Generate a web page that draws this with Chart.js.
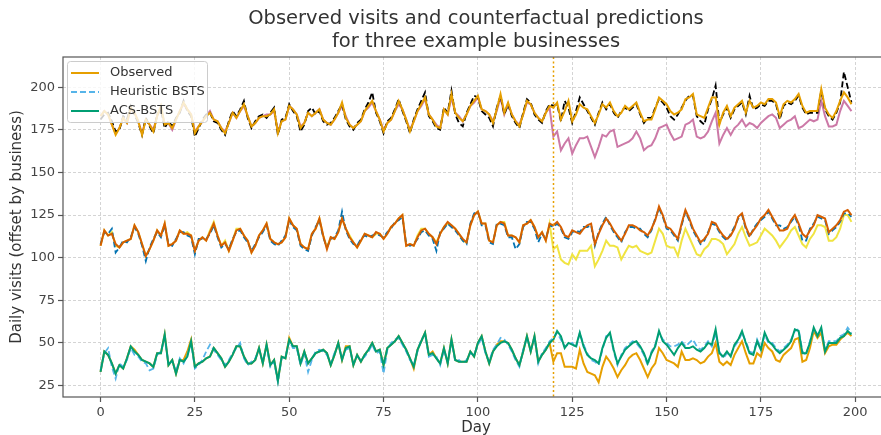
<!DOCTYPE html>
<html>
<head>
<meta charset="utf-8">
<script src="https://cdn.jsdelivr.net/npm/chart.js@4/dist/chart.umd.min.js"></script>
<style>
    html, body { margin: 0; padding: 0; background: #fff; overflow: hidden; }
    #wrap { width: 881px; height: 435px; overflow: hidden; }
</style>
</head>
<body>
<div id="wrap"><canvas id="visitsChart" width="890" height="435"></canvas></div>
<script>
// == Data ==
const days = Array.from({ length: 200 }, (_, i) => i);
const interventionDay = 120;
const xTicks = [0, 25, 50, 75, 100, 125, 150, 175, 200];
const yTicks = [25, 50, 75, 100, 125, 150, 175, 200];

// business A (bottom)
const botObserved = [
    33,45,43,38,32,37,35,41,48,46,43,40,39,38,36,44,44,55,37,40,
    32,40,40,45,52,36,38,39,41,42,47,44,41,36,39,43,48,48,42,38,
    38,40,47,38,49,37,40,28,42,41,53,48,48,38,45,38,41,44,45,46,
    44,37,43,50,40,48,48,37,43,39,43,46,50,45,46,37,47,49,51,54,
    50,46,41,35,46,51,56,43,45,41,38,47,38,52,40,39,39,39,45,42,
    50,54,45,38,45,49,51,51,50,46,41,37,45,54,45,54,39,43,46,50,
    39,44,44,36,36,36,35,46,38,33,32,31,27,36,42,39,35,30,34,37,
    41,43,44,40,35,30,35,38,47,44,40,39,38,36,45,40,40,41,40,38,
    39,42,44,50,39,37,39,37,43,47,51,44,38,38,44,42,50,47,45,40,
    39,43,45,47,52,53,39,40,47,57,53,56,44,48,49,49,52,54,56,54
];
const botHeuristic = [
    34,44,47,36,29,38,36,40,47,43,42,39,38,34,35,43,45,53,38,39,
    33,41,38,43,50,35,37,40,45,49,46,43,40,37,40,44,47,50,41,37,
    39,41,46,39,48,36,39,27,41,42,51,47,47,37,44,33,40,45,46,45,
    43,38,44,49,41,46,47,38,42,40,42,45,49,44,45,32,46,50,52,53,
    49,45,40,37,45,52,55,42,43,42,37,46,39,51,39,40,38,40,44,43,
    49,53,44,39,46,49,53,52,49,45,40,36,46,53,46,53,38,44,47,51,
    53,56,52,48,49,50,47,56,49,44,40,39,37,46,54,55,45,37,43,47,
    49,51,50,47,43,37,45,49,56,52,50,48,48,49,51,48,50,52,48,46,
    48,51,48,56,45,41,44,43,48,51,56,51,45,44,52,47,55,50,50,47,
    45,47,49,52,57,58,45,43,51,58,55,58,46,51,51,51,54,55,59,56
];
const botAcs = [
    33,45,43,38,32,37,35,41,48,45,43,40,39,38,36,44,44,55,37,40,
    32,40,39,42,51,36,38,39,41,42,47,44,41,36,39,43,48,48,42,38,
    38,40,47,38,49,37,40,28,42,41,52,48,48,38,45,38,41,44,45,46,
    44,37,43,50,40,47,48,37,43,39,43,46,50,45,46,37,47,49,51,54,
    50,46,41,36,46,51,56,43,44,41,38,47,38,52,40,39,39,39,45,42,
    50,54,45,38,45,48,50,51,50,46,41,37,45,54,45,54,39,43,46,50,
    52,57,54,47,50,49,48,56,48,43,41,40,38,47,53,56,46,38,42,46,
    48,50,51,48,44,38,44,48,57,51,49,46,43,47,50,47,47,48,46,45,
    47,50,49,58,44,42,45,42,49,52,57,50,44,43,51,46,56,51,49,46,
    44,46,48,51,58,57,44,44,50,59,54,59,45,50,50,50,53,54,57,55
];

// business B (middle)
const midObserved = [
    107,116,113,115,107,106,109,110,111,119,115,108,101,105,110,116,113,120,107,108,
    110,116,114,115,113,104,110,112,110,116,121,113,107,110,104,110,117,117,113,110,
    103,107,113,116,120,111,109,108,109,112,123,119,117,108,106,105,114,117,123,113,
    106,112,111,115,123,117,113,109,106,110,114,113,112,114,114,111,114,118,120,123,
    125,107,108,107,113,117,117,114,112,109,114,118,120,119,117,114,110,109,119,125,
    127,120,120,110,109,119,121,121,113,113,112,109,119,120,122,118,112,115,110,120,
    105,107,99,97,96,102,99,104,104,104,107,95,99,104,110,107,107,106,99,103,
    107,106,107,104,103,102,103,110,117,114,107,106,106,101,110,117,112,107,102,101,
    105,107,111,111,110,108,102,105,108,114,118,112,107,108,109,113,117,115,113,110,
    106,109,112,116,118,113,108,106,111,114,119,119,118,110,110,112,117,125,125,121
];
const midHeuristic = [
    108,115,114,117,103,106,110,109,112,118,114,107,98,106,111,115,112,119,108,107,
    111,115,115,113,112,102,111,111,111,114,119,112,106,108,105,111,115,116,112,109,
    104,108,112,115,119,110,108,107,110,113,122,118,116,107,105,104,113,118,122,112,
    106,111,112,116,127,116,111,108,107,111,113,112,113,114,113,112,115,117,121,122,
    124,108,107,108,111,115,116,113,111,104,115,117,120,118,116,113,110,108,120,126,
    127,119,119,109,108,120,120,119,112,112,105,108,118,121,121,117,109,114,111,119,
    118,120,117,112,111,115,116,115,118,118,119,107,115,120,124,119,115,112,109,115,
    118,118,117,117,114,112,116,123,129,124,117,116,113,110,119,127,122,116,112,108,
    110,115,120,119,115,112,110,114,118,123,125,117,112,117,120,122,124,127,123,119,
    119,117,118,121,124,119,110,110,117,120,124,123,122,114,116,118,121,126,126,124
];
const midAcs = [
    107,116,113,114,108,106,109,110,111,119,115,108,101,105,110,116,113,120,107,108,
    110,116,114,114,113,104,110,112,110,115,120,113,107,109,104,110,116,117,113,110,
    103,107,113,116,120,111,109,108,109,112,123,119,117,108,106,105,114,117,123,113,
    105,112,111,115,123,117,112,109,106,110,114,113,112,115,114,111,114,118,120,123,
    125,107,108,107,112,116,117,114,112,108,114,118,121,119,117,114,111,109,119,125,
    127,120,120,110,109,119,121,120,113,113,112,109,119,120,122,118,112,115,110,120,
    119,121,118,113,112,116,115,114,117,119,120,108,114,119,123,120,116,113,110,114,
    119,119,118,116,115,113,117,122,130,125,118,117,114,111,120,128,123,117,113,109,
    111,114,121,120,116,113,111,113,117,124,126,118,113,116,119,123,125,128,124,120,
    116,116,117,122,125,120,114,112,116,119,125,124,123,115,117,119,122,127,128,125
];

// business C (top)
const topObserved = [
    183,186,184,178,173,176,182,179,187,185,180,173,181,178,175,183,188,178,179,175,
    181,186,190,187,184,174,177,180,183,186,181,180,176,174,179,185,182,186,189,183,
    177,179,182,183,184,184,186,174,180,181,189,187,184,177,179,185,183,185,187,181,
    179,178,181,185,189,183,178,176,178,180,186,188,191,186,181,175,179,181,186,190,
    187,181,175,180,186,189,193,184,181,178,176,187,184,194,185,183,180,184,189,191,
    194,187,186,184,180,186,194,184,190,184,180,178,184,191,190,185,182,180,185,188,
    171,174,163,167,170,161,166,170,170,171,165,159,165,172,171,174,175,165,166,167,
    168,170,174,170,163,165,166,170,176,177,178,173,169,170,171,178,179,181,171,170,
    171,174,180,185,167,172,176,172,176,178,181,177,179,178,176,179,181,183,184,182,
    176,178,180,181,183,176,177,179,181,180,181,192,183,177,177,178,186,192,189,186
];
const topHeuristic = [
    181,184,185,180,174,175,183,181,189,184,179,172,182,177,173,184,187,176,180,177,
    182,185,192,186,183,171,176,181,184,185,180,179,175,172,180,186,183,187,192,182,
    176,180,183,184,182,185,188,172,181,182,190,186,183,174,178,186,188,184,186,180,
    178,179,182,186,190,181,177,175,179,181,187,191,197,185,180,173,180,182,187,193,
    186,180,173,181,187,192,197,183,180,176,175,188,185,198,184,179,177,185,190,195,
    194,186,184,182,177,188,195,184,190,183,179,176,185,193,191,184,181,179,186,190,
    189,190,180,192,188,179,186,194,190,186,182,178,185,191,187,190,185,182,186,188,
    186,188,190,184,179,182,182,188,193,191,188,183,181,184,188,192,195,195,183,180,
    178,187,193,201,179,184,188,182,187,189,191,184,195,187,188,190,189,192,192,190,
    181,189,191,190,192,195,188,184,185,185,185,198,187,183,181,185,191,209,200,191
];
const topAcs = [
    183,186,184,178,172,176,182,179,188,185,180,172,181,178,174,183,189,178,179,176,
    181,186,191,187,184,173,177,180,183,185,181,180,176,173,179,185,182,186,190,183,
    177,179,182,183,183,184,187,173,180,181,189,187,184,176,179,185,183,185,187,181,
    179,178,181,185,191,182,178,176,178,180,186,189,192,186,181,174,179,181,186,192,
    187,181,174,180,186,190,194,184,181,177,176,187,184,196,185,182,180,184,189,192,
    195,187,186,184,179,187,196,185,191,184,180,177,184,192,190,185,182,180,185,189,
    188,191,181,186,192,180,184,190,188,187,183,179,184,190,188,191,186,183,185,189,
    187,189,191,185,180,181,181,187,194,192,190,186,184,185,187,193,194,196,184,183,
    182,188,194,194,178,185,189,183,188,190,192,185,192,188,189,191,190,193,193,191,
    183,190,192,191,193,196,189,185,186,186,186,199,188,184,182,186,192,197,194,190
];

const legendItems = [
    { label: 'Observed', color: '#E69F00', dash: [] },
    { label: 'Heuristic BSTS', color: '#56B4E9', dash: [6, 3] },
    { label: 'ACS-BSTS', color: '#009E73', dash: [] },
];

// == Utils ==
const FONT = '"DejaVu Sans", sans-serif';

function makeLine(data, color, dashed, plotIndex) {
    return {
        data,
        borderColor: color,
        borderWidth: dashed ? 1.8 : 2,
        borderDash: dashed ? [6, 3] : [],
        pointRadius: 0,
        tension: 0,
        fill: false,
        order: 20 - plotIndex,
    };
}

// == Decorations ==
const decorations = {
    id: 'decorations',
    afterDatasetsDraw(chart) {
        const { ctx, chartArea: a, scales: { x } } = chart;
        const xi = Math.round(x.getPixelForValue(interventionDay)) + 0.5;
        ctx.save();
        ctx.strokeStyle = '#E69F00';
        ctx.lineWidth = 1.5;
        ctx.setLineDash([2, 2.5]);
        ctx.beginPath();
        ctx.moveTo(xi, a.top);
        ctx.lineTo(xi, a.bottom);
        ctx.stroke();
        ctx.restore();
    },
    afterDraw(chart) {
        const { ctx, chartArea: a } = chart;
        ctx.save();

        // frame
        ctx.strokeStyle = '#555';
        ctx.lineWidth = 1.2;
        ctx.strokeRect(a.left, a.top, a.right - a.left, a.bottom - a.top);

        // legend
        ctx.fillStyle = 'rgba(255,255,255,0.8)';
        ctx.strokeStyle = '#cccccc';
        ctx.lineWidth = 1;
        ctx.beginPath();
        ctx.roundRect(67.5, 61.5, 140, 61, 3);
        ctx.fill();
        ctx.stroke();
        ctx.font = `13px ${FONT}`;
        ctx.textBaseline = 'middle';
        legendItems.forEach((item, i) => {
            const y = 73 + i * 19;
            ctx.strokeStyle = item.color;
            ctx.lineWidth = 2;
            ctx.setLineDash(item.dash);
            ctx.beginPath();
            ctx.moveTo(71, y);
            ctx.lineTo(99, y);
            ctx.stroke();
            ctx.setLineDash([]);
            ctx.fillStyle = '#333';
            ctx.textAlign = 'left';
            ctx.fillText(item.label, 110, y);
        });

        // titles
        const cx = (a.left + a.right) / 2;
        ctx.fillStyle = '#333';
        ctx.textAlign = 'center';
        ctx.font = `19.5px ${FONT}`;
        ctx.fillText('Observed visits and counterfactual predictions', cx, 19);
        ctx.fillText('for three example businesses', cx, 42);

        ctx.font = `15px ${FONT}`;
        ctx.fillText('Day', cx, 428);
        ctx.translate(17, (a.top + a.bottom) / 2);
        ctx.rotate(-Math.PI / 2);
        ctx.fillText('Daily visits (offset by business)', 0, 0);
        ctx.restore();
    }
};

// == Chart ==
new Chart(document.getElementById('visitsChart'), {
    type: 'line',
    data: {
        labels: days,
        datasets: [
            makeLine(botObserved, '#E69F00', false, 0),
            makeLine(botHeuristic, '#56B4E9', true, 1),
            makeLine(botAcs, '#009E73', false, 2),
            makeLine(midObserved, '#F0E442', false, 3),
            makeLine(midHeuristic, '#0072B2', true, 4),
            makeLine(midAcs, '#D55E00', false, 5),
            makeLine(topObserved, '#CC79A7', false, 6),
            makeLine(topHeuristic, '#000000', true, 7),
            makeLine(topAcs, '#E69F00', false, 8),
        ]
    },
    options: {
        responsive: false,
        animation: false,
        devicePixelRatio: 1,
        layout: { padding: { top: 57, left: 0, right: 1, bottom: 0 } },
        plugins: {
            legend: { display: false },
            tooltip: { enabled: false },
        },
        scales: {
            x: {
                type: 'linear',
                min: -9.95,
                max: 208.95,
                afterBuildTicks: s => { s.ticks = xTicks.map(v => ({ value: v })); },
                afterFit: s => { s.height = 38; },
                grid: { color: '#d4d4d4', lineWidth: 1, tickLength: 5, tickColor: '#555', tickWidth: 1.2 },
                border: { display: false, dash: [3, 2] },
                ticks: { color: '#444', font: { family: FONT, size: 13 }, padding: 3, maxRotation: 0 },
            },
            y: {
                min: 18.3,
                max: 217.7,
                afterBuildTicks: s => { s.ticks = yTicks.map(v => ({ value: v })); },
                afterFit: s => { s.width = 63; },
                grid: { color: '#d4d4d4', lineWidth: 1, tickLength: 5, tickColor: '#555', tickWidth: 1.2 },
                border: { display: false, dash: [3, 2] },
                ticks: { color: '#444', font: { family: FONT, size: 13 }, padding: 3 },
            }
        }
    },
    plugins: [decorations]
});
</script>
</body>
</html>
